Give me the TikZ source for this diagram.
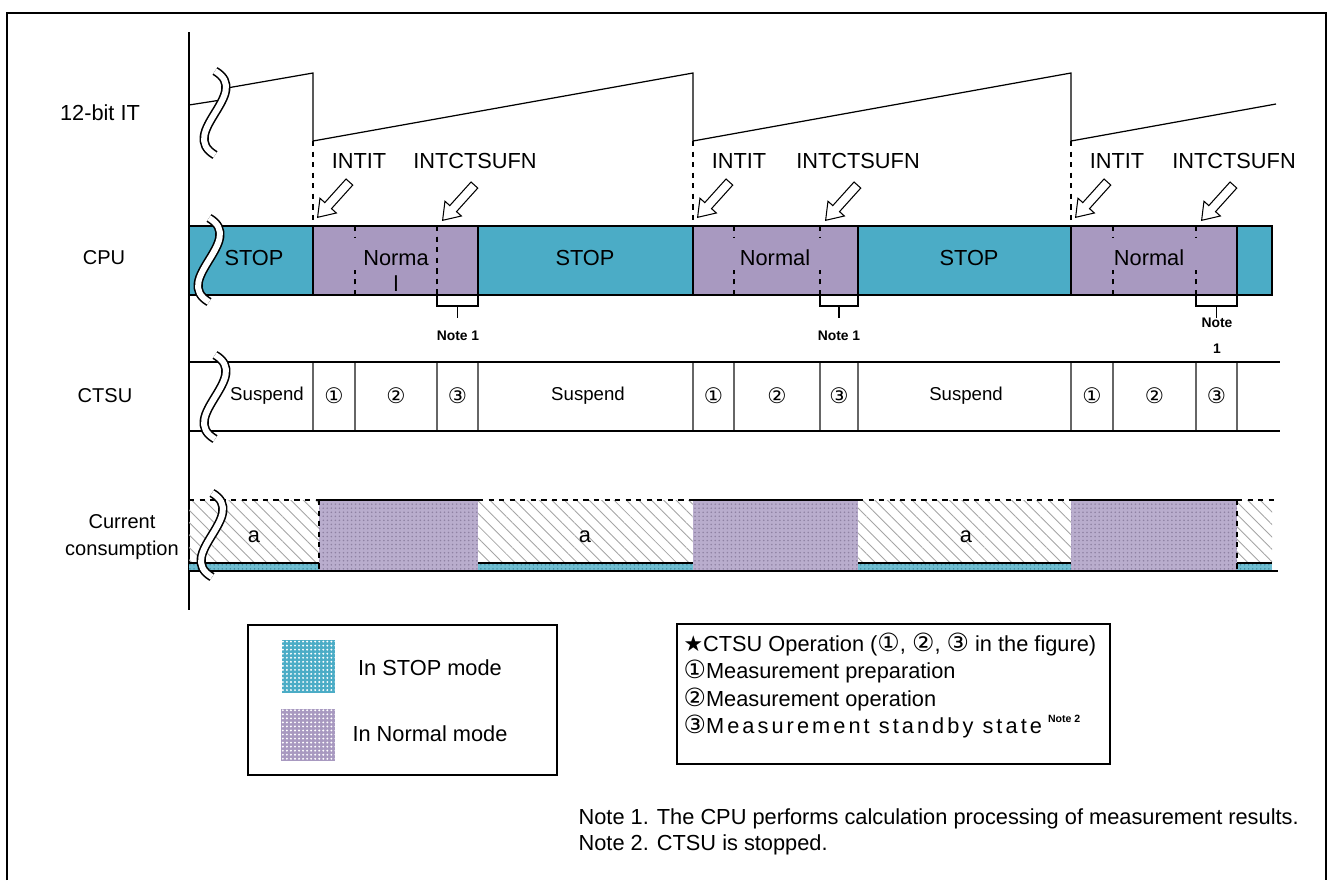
\documentclass[tikz,border=0pt]{standalone}
\usepackage{fontspec}
\usepackage{graphicx}
\setmainfont{Liberation Sans}
\newfontfamily\symfont{DejaVu Sans}
\usetikzlibrary{patterns.meta,shapes.arrows}
\definecolor{stopteal}{RGB}{75,172,198}
\definecolor{normalviolet}{RGB}{168,153,192}
\definecolor{hatchgray}{RGB}{165,165,165}
\newcommand\chartfont{\fontsize{12.4}{15.2}\selectfont}
\newcommand\opone{\scalebox{1.15}{\symfont ①}}
\newcommand\optwo{\scalebox{1.15}{\symfont ②}}
\newcommand\opthree{\scalebox{1.15}{\symfont ③}}
\tikzset{
    timing chart/.style = {x=0.02cm, y=-0.02cm, font=\chartfont,
                           line width=0.7pt},
    frameline/.style    = {line width=1.1pt},
    rowline/.style      = {line width=0.8pt},
    sepline/.style      = {line width=0.6pt, draw=black!60},
    stopblock/.style    = {draw, rowline, fill=stopteal},
    normalblock/.style  = {draw, rowline, fill=normalviolet},
    phase/.style        = {dashed, line width=0.6pt},
    breakmark/.style    = {line width=0.9pt, double=white,
                           double distance=3.4pt},
    irq/.style          = {single arrow, draw, fill=white, line width=0.6pt,
                           rotate=228, anchor=tip, minimum height=0.95cm,
                           inner sep=0.08cm, single arrow head extend=0.13cm,
                           single arrow tip angle=70},
    rowname/.style      = {font=\fontsize{11.4}{15.2}\selectfont,
                           align=center},
    ctsutext/.style     = {font=\fontsize{10.6}{13}\selectfont},
    notetext/.style     = {font=\fontsize{7.9}{14.8}\selectfont\bfseries,
                           align=center},
    idle hatch/.style   = {pattern={Lines[angle=-45, distance=5pt,
                                           line width=0.5pt]},
                           pattern color=hatchgray},
    stop dots/.style    = {preaction={fill=stopteal!80!white},
                           pattern={Dots[distance=2.3pt, radius=0.45pt]},
                           pattern color=stopteal!80!black},
    normal dots/.style  = {preaction={fill=normalviolet!80!white},
                           pattern={Dots[distance=2.3pt, radius=0.5pt]},
                           pattern color=normalviolet!85!black},
    swatch/.style       = {preaction={fill=#1},
                           pattern={Dots[distance=2.3pt, radius=0.6pt]},
                           pattern color=white},
    axis break/.pic     = {\draw[breakmark] (0,-42)
                             .. controls (38,-20) and (-38,20) .. (0,42);}
}
\def\axisx{189}
\def\endx{1272}
\def\ittop{73}
\def\itbot{141}
\def\cputop{226}
\def\cpubot{295}
\def\ctsutop{362}
\def\ctsubot{431}
\def\curtop{500}
\def\curmid{563}
\def\curbot{571}

\begin{document}
\begin{tikzpicture}[timing chart]
\useasboundingbox (0,0) rectangle (1328,880);
\draw[frameline] (7,880) -- (7,13) -- (1326,13) -- (1326,880);
\draw (\axisx,32) -- (\axisx,610);

% row names
\node (itlabel) at (100,113) {12-bit IT};
\node[rowname] (cpulabel) at (104,258) {CPU};
\node[rowname] (ctsulabel) at (105,396) {CTSU};
\node[rowname] (curlabel) at (122,537) {Current\\consumption};

% interval timer count
\draw (\axisx,105) -- (221,100);
\draw (227,88) -- (313,\ittop) -- (313,\itbot) -- (693,\ittop) -- (693,\itbot)
  -- (1071,\ittop) -- (1071,\itbot) -- (1276,104);

% CPU in STOP mode
\foreach \l/\r in {\axisx/313, 478/693, 858/1071, 1237/\endx}
  \draw[stopblock] (\l,\cputop) rectangle (\r,\cpubot);

% current consumption while stopped
\foreach \l/\r/\e in {\axisx/319/319, 478/693/693, 858/1071/1071, 1237/\endx/1278} {
  \path[idle hatch] (\l,\curtop) rectangle (\r,\curmid);
  \path[stop dots] (\l,\curmid) rectangle (\r,\curbot);
  \draw[dashed] (\l,\curtop) -- (\e,\curtop);
  \draw (\l,\curmid) -- (\r,\curmid);
}

% one measurement cycle per timer interrupt
\foreach \a/\b/\c/\d/\p/\i in {313/355/437/478/319/1, 693/734/820/858/693/2,
                               1071/1113/1196/1237/1071/3} {
  \draw[normalblock] (\a,\cputop) rectangle (\d,\cpubot);
  \draw[phase] (\a,\itbot) -- (\a,\cputop);
  \draw[phase] (\b,\cputop) -- +(0,12) (\b,\cpubot) -- +(0,-25);
  \draw[phase] (\c,\cputop) -- +(0,12) (\c,\cpubot) -- +(0,-25);
  \node (intit\i) at (\a+46,161) {INTIT};
  \node (intfn\i) at (\c+38,161) {INTCTSUFN};
  \node[irq] (itarrow\i) at (\a+4,218) {};
  \node[irq] (fnarrow\i) at (\c+5,221) {};
  \draw[rowline] (\c,\cpubot) -- (\c,306) -- (\d,306) -- (\d,\cpubot);
  \draw[rowline] ({(\c+\d)/2},306) -- ({(\c+\d)/2},318);
  \foreach \x in {\a,\b,\c,\d}
    \draw[sepline] (\x,\ctsutop) -- (\x,\ctsubot);
  \node[ctsutext] (prep\i) at ({(\a+\b)/2},396) {\opone};
  \node[ctsutext] (meas\i) at ({(\b+\c)/2},396) {\optwo};
  \node[ctsutext] (wait\i) at ({(\c+\d)/2},396) {\opthree};
  \path[normal dots] (\p,\curtop) rectangle (\d,\curbot);
  \draw (\p,\curtop) -- (\d,\curtop);
}
\draw[phase] (437,\cputop) -- (437,\cpubot);
\draw[phase] (319,\curtop) -- (319,\curbot);
\draw[phase] (1237,\curtop) -- (1237,\curbot);

\node (stop1) at (254,258) {STOP};
\node[align=center] (run1) at (396,271) {Norma\\l};
\node (stop2) at (585,258) {STOP};
\node (run2) at (775,258) {Normal};
\node (stop3) at (969,258) {STOP};
\node (run3) at (1149,258) {Normal};

\node[notetext] (note1) at (458,336) {Note 1};
\node[notetext] (note2) at (839,336) {Note 1};
\node[notetext] (note3) at (1217,336) {Note\\1};

% CTSU row
\draw (\axisx,\ctsutop) -- (1280,\ctsutop);
\draw (\axisx,\ctsubot) -- (1280,\ctsubot);
\node[ctsutext] (idle1) at (267,396) {Suspend};
\node[ctsutext] (idle2) at (588,396) {Suspend};
\node[ctsutext] (idle3) at (966,396) {Suspend};

\draw (\axisx,\curbot) -- (1278,\curbot);
\node (cura1) at (254,537) {a};
\node (cura2) at (585,537) {a};
\node (cura3) at (966,537) {a};

% axis breaks
\pic at (215,113) {axis break};
\pic at (209,260) {axis break};
\pic at (215,397) {axis break};
\pic at (212,535) {axis break};

% legends
\draw[rowline] (248,625) rectangle (557,775);
\path[swatch=stopteal] (282,640) rectangle (335,693);
\path[swatch=normalviolet] (281,709) rectangle (335,761);
\node[anchor=base] (stopkey) at (430,675) {In STOP mode};
\node[anchor=base] (runkey) at (430,741) {In Normal mode};

\draw[rowline] (677,624) rectangle (1110,764);
\node[anchor=base west, inner sep=0pt] (ops0) at (683,651)
  {{\symfont ★}CTSU Operation (\opone, \optwo, \opthree\ in the figure)};
\node[anchor=base west, inner sep=0pt] (ops1) at (683,678)
  {\opone Measurement preparation};
\node[anchor=base west, inner sep=0pt] (ops2) at (683,706)
  {\optwo Measurement operation};
\node[anchor=base west, inner sep=0pt] (ops3) at (683,733)
  {\opthree{\addfontfeatures{LetterSpace=14}Measurement standby state}
   \raisebox{0.9ex}{\fontsize{6}{7}\selectfont\bfseries Note 2}};

\node[anchor=base west, inner sep=0pt] (footnote1) at (578,824)
  {Note 1. The CPU performs calculation processing of measurement results.};
\node[anchor=base west, inner sep=0pt] (footnote2) at (578,850)
  {Note 2. CTSU is stopped.};

\end{tikzpicture}
\end{document}
